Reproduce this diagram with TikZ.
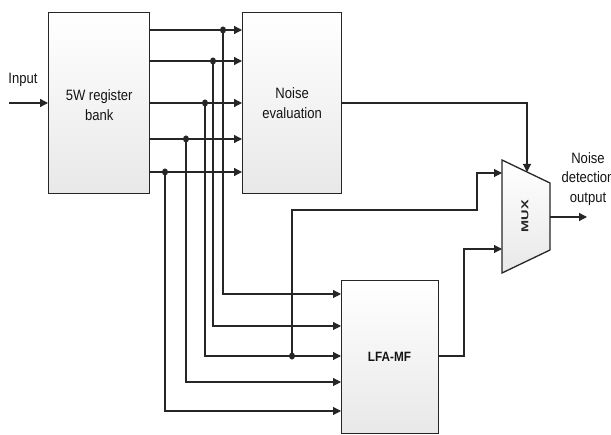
\documentclass[tikz,border=0pt]{standalone}
\usepackage{fontspec}
\setmainfont{Liberation Sans}[FakeStretch=0.87]
\newfontfamily\widefont{Liberation Sans}
\usetikzlibrary{arrows.meta}
\begin{document}
\begin{tikzpicture}[x=1pt,y=-1pt,
  line width=1.3pt, draw=black!85,
  box/.style={draw=black!85, line width=1.3pt, top color=white, bottom color=black!9, inner sep=0pt, anchor=north west},
  arr/.style={-{Triangle[length=8pt,width=8pt]}},
  lbl/.style={text=black!92, font=\fontsize{15}{19.5}\selectfont, align=center, inner sep=0pt},
  dot/.style={fill=black!85}]
\useasboundingbox (0,0) rectangle (611,435);
% boxes
\node[box, minimum width=101pt, minimum height=181pt] (rb) at (48,12) {};
\node[box, minimum width=99pt, minimum height=181pt] (ne) at (242,12) {};
\node[box, minimum width=97pt, minimum height=153pt] (lfa) at (341,280) {};
\node[lbl] (rbt) at (rb.center |- 0,105) {5W register\\bank};
\node[lbl] (net) at (ne.center |- 0,103) {Noise\\evaluation};
\node[lbl, font=\fontsize{13.5}{13.5}\selectfont\bfseries] (lfat) at (389.5,357) {LFA-MF};
% MUX
\coordinate (m1) at (502,160);
\coordinate (m2) at (550,183);
\coordinate (m3) at (550,250);
\coordinate (m4) at (502,273);
\shade[top color=white, bottom color=black!9, draw=black!85, line width=1.3pt] (m1) -- (m2) -- (m3) -- (m4) -- cycle;
\node[rotate=90, inner sep=0pt, text=black!85] (mux) at (525,216) {\fontsize{10}{10}\widefont\bfseries\scalebox{1.45}[1]{MUX}};
% input
\coordinate (in) at (9,103);
\draw[arr] (in) -- (rb.west |- in);
\node[lbl] (inl) at (23,80) {Input};
% rows
\foreach \i/\y/\x/\Y in {1/30/223/294, 2/61/213/326, 3/103/205/356, 4/139/186/382, 5/172/165/411} {
  \coordinate (d\i) at (\x,\y);
  \coordinate (t\i) at (lfa.west |- 0,\Y);
  \draw[arr] (rb.east |- d\i) -- (ne.west |- d\i);
  \draw[arr, line width=1.1pt] (d\i) |- (t\i);
  \fill[dot] (d\i) ellipse (3pt and 3.6pt);
}
% LFA third input tap to mux
\coordinate (j) at (292,356);
\coordinate (mi1) at (502,173);
\coordinate (mi2) at (502,249);
\coordinate (mt) at (527,172);
\draw[arr, line width=1.1pt] (j) -- (292,210) -- (477,210) -- (477,173) -- (mi1);
\fill[dot] (j) ellipse (3pt and 3.6pt);
% LFA output to mux
\draw[arr, line width=1.1pt] (lfa.east |- j) -- (464,356) -- (464,249) -- (mi2);
% noise evaluation to mux
\draw[arr, line width=1.1pt] (ne.east |- 0,103) -- (527,103) -- (mt);
% mux output
\coordinate (mo) at (550,217);
\coordinate (out) at (587,217);
\draw[arr] (mo) -- (out);
\node[lbl] (outl) at (588,179) {Noise\\detection\\output};
\end{tikzpicture}
\end{document}
